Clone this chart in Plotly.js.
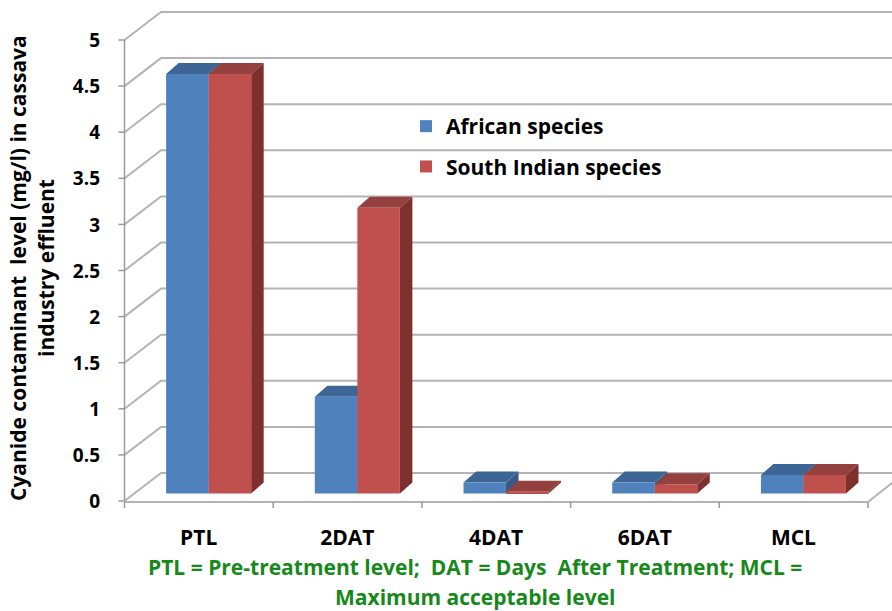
<!DOCTYPE html>
<html><head><meta charset="utf-8">
<script src="https://cdn.plot.ly/plotly-3.0.1.min.js"></script>
<style>html,body{margin:0;padding:0;background:#fff}</style>
</head><body><div id="chart" style="width:892px;height:611px"></div>
<script>
// ---- data ----
const categories = ['PTL', '2DAT', '4DAT', '6DAT', 'MCL'];
const african = [4.55, 1.05, 0.12, 0.12, 0.2];
const southIndian = [4.55, 3.1, 0.02, 0.1, 0.2];
const seriesNames = ['African species', 'South Indian species'];
const yTicks = [0, 0.5, 1, 1.5, 2, 2.5, 3, 3.5, 4, 4.5, 5];
const yTickText = ['0', '0.5', '1', '1.5', '2', '2.5', '3', '3.5', '4', '4.5', '5'];
const yTitleLines = ['Cyanide contaminant  level (mg/l) in cassava', 'industry effluent'];
const noteLines = ['PTL = Pre-treatment level;  DAT = Days  After Treatment; MCL =', 'Maximum acceptable level'];

// ---- layout geometry (pixels) ----
const W = 892, H = 611;
const PX0 = 134.3, CW = 148.7;   // bar plane: x pixel of category -0.5, px per category
const Y0 = 493.5, K = 92.2;      // bar plane: y pixel of value 0, px per unit
const L = 104, R = 892, T = 2, B = 512;
const xr = [(L - PX0) / CW - 0.5, (R - PX0) / CW - 0.5];
const yr = [(Y0 - B) / K, (Y0 - T) / K];
const dX = p => p / CW, dY = p => -p / K;
const FRONT = {dx: dX(-9.8), dy: dY(7.5)};
const BACK = {dx: dX(26.7), dy: dY(-20.5)};
const DEPTH = {dx: dX(12.5), dy: dY(-11)};
const bargap = 0.428, bw = (1 - bargap) / 2;
const px2paperX = p => (p - L) / (R - L);
const px2paperY = p => (B - p) / (B - T);

const colors = ['#4f81bd', '#c0504d'];
const topColors = ['#3d6696', '#93403e'];
const sideColors = ['#375a85', '#7d302e'];
const gridColor = '#b4b4b4', axisColor = '#9a9a9a';
const FONT = '"Open Sans", Lato, sans-serif';
const FS = 21;

const shapes = [];
// back wall gridlines + side wall diagonals
yTicks.forEach(v => {
  const fx = -0.5 + FRONT.dx, fy = v + FRONT.dy;
  const bx = -0.5 + BACK.dx, by = v + BACK.dy;
  shapes.push({type: 'path', layer: 'below', xref: 'x', yref: 'y',
    path: `M${fx},${fy} L${bx},${by} L${xr[1] + 1},${by}`,
    line: {color: gridColor, width: 2}});
  shapes.push({type: 'line', layer: 'below', xref: 'x', yref: 'y',
    x0: fx - dX(6), x1: fx, y0: fy, y1: fy, line: {color: axisColor, width: 1.5}});
});
// floor front line (x axis) and right edge
const fy0 = FRONT.dy;
shapes.push({type: 'line', layer: 'below', xref: 'x', yref: 'y',
  x0: -0.5 + FRONT.dx, x1: 4.5 + FRONT.dx, y0: fy0 + dY(1), y1: fy0 + dY(1), line: {color: gridColor, width: 2}});
shapes.push({type: 'line', layer: 'below', xref: 'x', yref: 'y',
  x0: 4.5 + FRONT.dx, x1: 4.5 + BACK.dx, y0: fy0 + dY(1), y1: BACK.dy, line: {color: gridColor, width: 2}});
// front y axis line
shapes.push({type: 'line', layer: 'below', xref: 'x', yref: 'y',
  x0: -0.5 + FRONT.dx, x1: -0.5 + FRONT.dx, y0: fy0, y1: 5 + FRONT.dy, line: {color: axisColor, width: 1.5}});
// x tick marks
for (let b = -0.5; b <= 4.5; b += 1) {
  shapes.push({type: 'line', layer: 'below', xref: 'x', yref: 'y',
    x0: b + FRONT.dx, x1: b + FRONT.dx, y0: fy0 + dY(1), y1: fy0 + dY(7), line: {color: axisColor, width: 1.5}});
}
// 3D faces of bars
[african, southIndian].forEach((vals, i) => {
  vals.forEach((v, c) => {
    const x0 = c - bw + i * bw, x1 = x0 + bw;
    shapes.push({type: 'path', layer: 'below', xref: 'x', yref: 'y',
      path: `M${x1},0 L${x1},${v} L${x1 + DEPTH.dx},${v + DEPTH.dy} L${x1 + DEPTH.dx},${DEPTH.dy} Z`,
      fillcolor: sideColors[i], line: {width: 0}});
    shapes.push({type: 'path', layer: 'below', xref: 'x', yref: 'y',
      path: `M${x0},${v} L${x1},${v} L${x1 + DEPTH.dx},${v + DEPTH.dy} L${x0 + DEPTH.dx},${v + DEPTH.dy} Z`,
      fillcolor: topColors[i], line: {width: 0}});
  });
});

const xIdx = categories.map((_, i) => i);
const traces = [african, southIndian].map((vals, i) => ({
  type: 'bar', x: xIdx, y: vals, name: '<b>' + seriesNames[i] + '</b>', legendgroup: 'g' + i,
  marker: {color: colors[i], line: {width: 0}},
  hovertemplate: '%{customdata}: %{y}<extra>' + seriesNames[i] + '</extra>',
  customdata: categories
}));

const annotations = [
  {xref: 'paper', yref: 'paper', x: px2paperX(18), y: px2paperY(268), text: '<b>' + yTitleLines[0] + '</b>',
   textangle: -90, showarrow: false, font: {family: FONT, size: FS, color: '#000'}, xanchor: 'center', yanchor: 'middle'},
  {xref: 'paper', yref: 'paper', x: px2paperX(46), y: px2paperY(268), text: '<b>' + yTitleLines[1] + '</b>',
   textangle: -90, showarrow: false, font: {family: FONT, size: FS, color: '#000'}, xanchor: 'center', yanchor: 'middle'},
  {xref: 'paper', yref: 'paper', x: px2paperX(475), y: px2paperY(567), text: '<b>' + noteLines[0] + '</b>',
   showarrow: false, font: {family: FONT, size: FS, color: '#16891a'}, xanchor: 'center', yanchor: 'middle'},
  {xref: 'paper', yref: 'paper', x: px2paperX(475), y: px2paperY(597), text: '<b>' + noteLines[1] + '</b>',
   showarrow: false, font: {family: FONT, size: FS, color: '#16891a'}, xanchor: 'center', yanchor: 'middle'}
];

const layout = {
  width: W, height: H,
  margin: {l: L, r: W - R, t: T, b: H - B, pad: 0},
  paper_bgcolor: '#fff', plot_bgcolor: '#fff',
  barmode: 'group', bargap: bargap, bargroupgap: 0,
  font: {family: FONT, color: '#000'},
  xaxis: {range: xr, tickvals: xIdx, ticktext: categories.map(c => '<b>' + c + '</b>'),
    showgrid: false, zeroline: false, showline: false, ticks: '',
    ticklabelshift: -10, ticklabelstandoff: 11, tickfont: {family: FONT, size: FS, color: '#000'}, fixedrange: true},
  yaxis: {range: yr, tickvals: yTicks, ticktext: yTickText.map(t => '<b>' + t + '</b>'),
    showgrid: false, zeroline: false, showline: false, ticks: '',
    ticklabelshift: 8, ticklabelstandoff: 3, tickfont: {family: FONT, size: 19, color: '#000'}, fixedrange: true},
  showlegend: true,
  legend: {x: px2paperX(406), y: px2paperY(106), xanchor: 'left', yanchor: 'top',
    font: {family: FONT, size: FS, color: '#000'}, bgcolor: 'rgba(0,0,0,0)', tracegroupgap: 10,
    traceorder: 'grouped'},
  shapes: shapes,
  annotations: annotations
};

Plotly.newPlot('chart', traces, layout, {displayModeBar: false});
</script></body></html>
